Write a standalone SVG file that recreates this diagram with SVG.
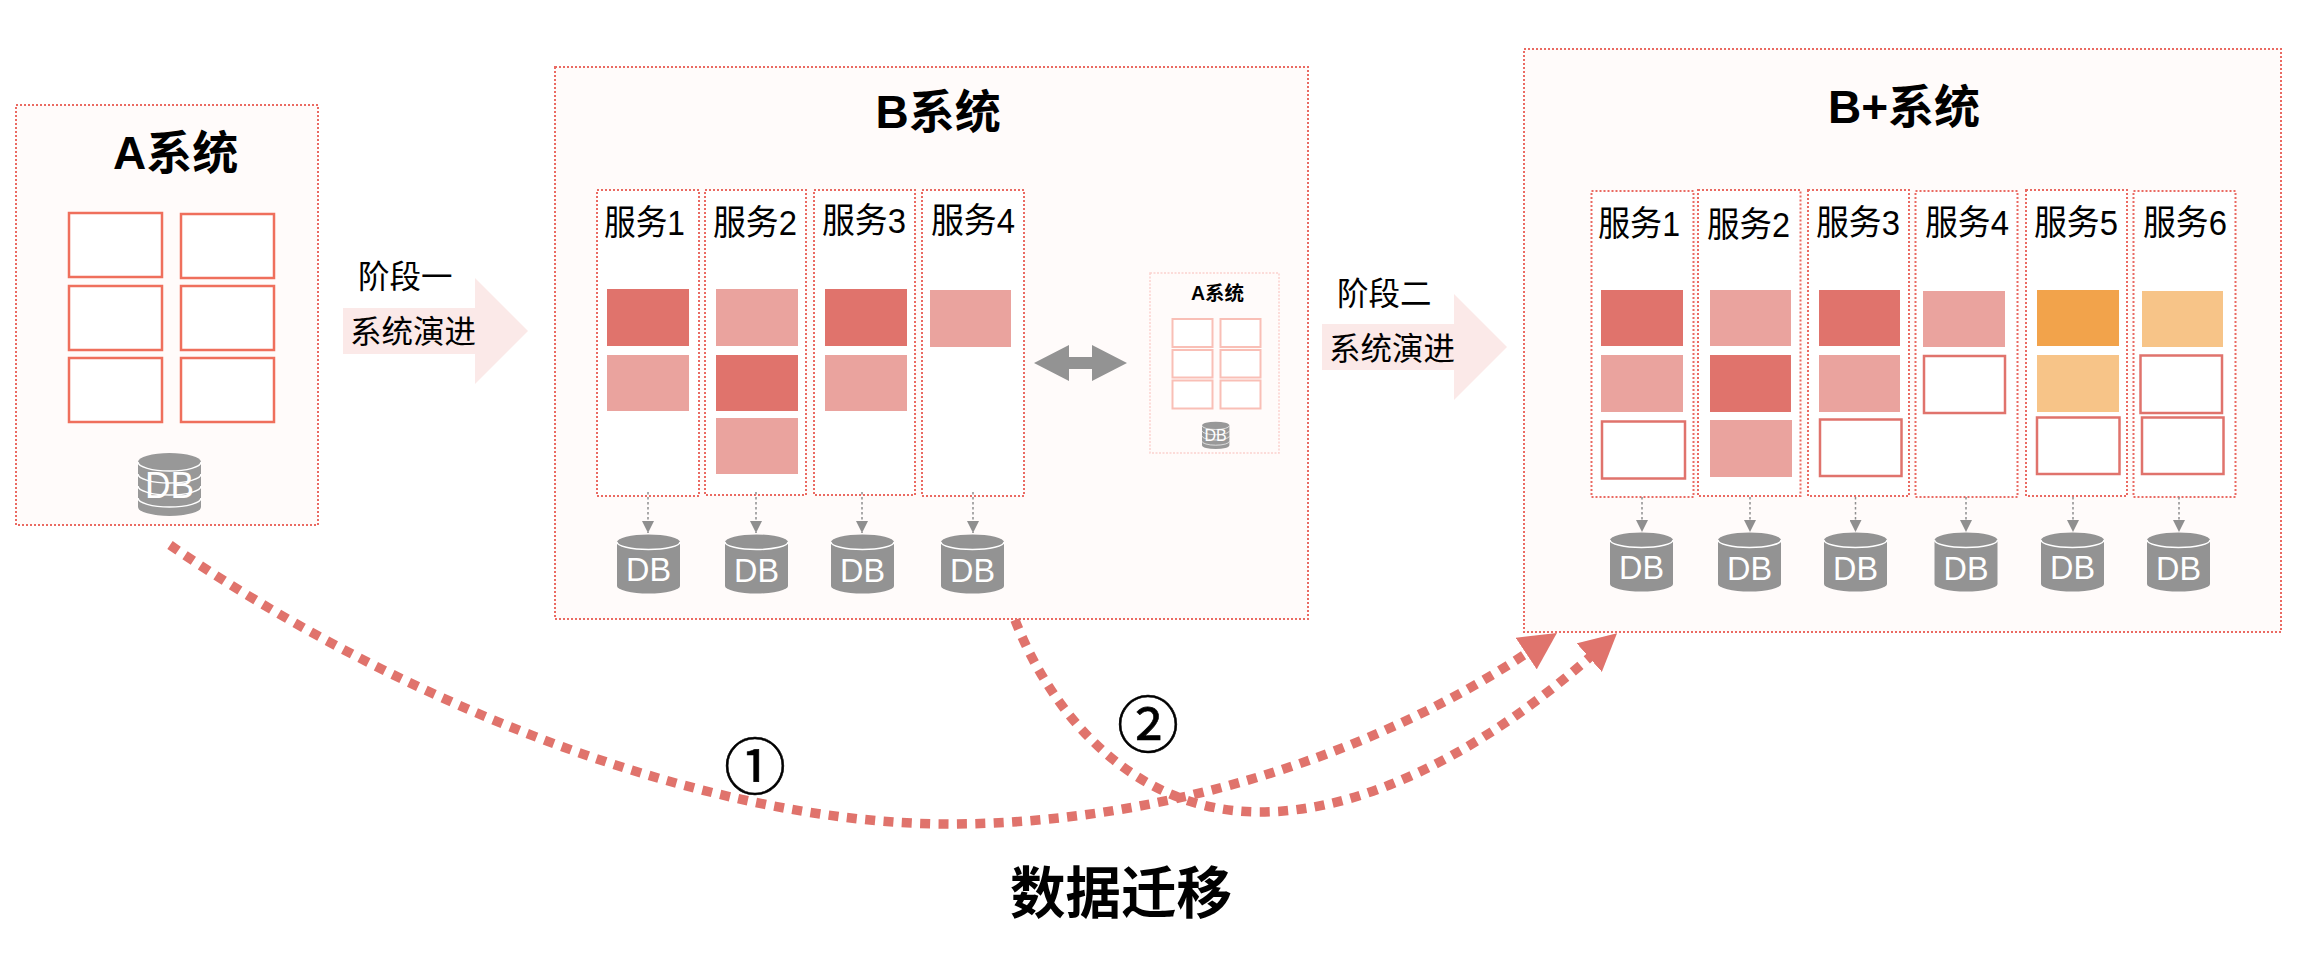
<svg xmlns="http://www.w3.org/2000/svg" width="2300" height="976" viewBox="0 0 2300 976">
<style>
text{font-family:"Liberation Sans","Noto Sans CJK SC",sans-serif;fill:#000}
.sys{fill:#fffbfa;stroke:#ea6a62;stroke-width:2;stroke-dasharray:2 2}
.col{fill:#fff;stroke:#ea6a62;stroke-width:2;stroke-dasharray:2 2}
.t1{font-size:46px;font-weight:700}
.t2{font-size:31.5px}
.t4{font-size:35px}
.t3{font-size:55.500px;font-weight:700}
.cn{font-size:62px;font-family:"Noto Sans CJK SC",sans-serif;stroke:#000;stroke-width:.6}
.db{font-size:33px;fill:#fff}
.d{fill:#e0736c}.l{fill:#eaa39e}.o{fill:#f2a34b}.p{fill:#f7c488}
.e{fill:#fff;stroke:#e0736c;stroke-width:2.5}
.a{fill:#fff;stroke:#ef6f5c;stroke-width:2.5}
.am{fill:#fff;stroke:#f9bfb6;stroke-width:2}
.stage{fill:#fbe9e8}
.link{fill:none;stroke:#8f8f8f;stroke-width:1.5;stroke-dasharray:2.5 2.5;marker-end:url(#mg)}
.mig{fill:none;stroke:#e0736c;stroke-width:9.500;stroke-dasharray:10 8.4}
</style>
<defs>
<marker id="mg" markerUnits="userSpaceOnUse" markerWidth="12" markerHeight="12" viewBox="0 0 12 12" refX="12" refY="6" orient="auto"><path d="M0 0L12 6L0 12Z" fill="#8f8f8f"/></marker>
<marker id="m1" markerUnits="userSpaceOnUse" markerWidth="37" markerHeight="38" viewBox="0 0 37 38" refX="1" refY="19" orient="auto"><path d="M0 0L37 19L0 38Z" fill="#e0736c"/></marker>
<g id="cyl"><path d="M0 7A31.5 7.5 0 0 1 63 7V51A31.5 7.5 0 0 1 0 51Z" fill="#939393"/><path d="M0 7A31.5 7.5 0 0 0 63 7" fill="none" stroke="#fff" stroke-width="1.5"/></g>
<g id="stack"><path d="M0 9A31.5 9 0 0 1 63 9V54A31.5 9 0 0 1 0 54Z" fill="#989898"/><path d="M0 9A31.5 9 0 0 0 63 9M0 21A31.5 9 0 0 0 63 21M0 33A31.5 9 0 0 0 63 33M0 45A31.5 9 0 0 0 63 45" fill="none" stroke="#fff" stroke-width="1.5"/></g>
</defs>

<g id="system-a">
<rect class="sys" x="16" y="105" width="302" height="420"/>
<text class="t1" x="113" y="169">A系统</text>
<rect class="a" x="69" y="213" width="93" height="64"/><rect class="a" x="181" y="214" width="93" height="64"/>
<rect class="a" x="69" y="286" width="93" height="64"/><rect class="a" x="181" y="286" width="93" height="64"/>
<rect class="a" x="69" y="358" width="93" height="64"/><rect class="a" x="181" y="358" width="93" height="64"/>
<use href="#stack" x="138" y="453"/>
<text x="145" y="498" font-size="36" style="fill:#fff" textLength="49" lengthAdjust="spacingAndGlyphs">DB</text>
</g>

<g id="stage-1">
<path class="stage" d="M343 308H475V278L528 331L475 384V354H343Z"/>
<text class="t2" x="358" y="288">阶段一</text>
<text class="t2" x="350" y="343">系统演进</text>
</g>

<g id="system-b">
<rect class="sys" x="555" y="67" width="753" height="552"/>
<text class="t1" x="875.500" y="128">B系统</text>
</g>
<g id="b-svc1"><rect class="col" x="597" y="190" width="102" height="306"/><text class="t4" x="604" y="235" textLength="81" lengthAdjust="spacingAndGlyphs">服务1</text><rect class="d" x="607" y="289" width="82" height="57"/><rect class="l" x="607" y="355" width="82" height="56"/></g>
<g id="b-svc2"><rect class="col" x="705" y="190" width="101" height="305"/><text class="t4" x="713" y="235" textLength="84" lengthAdjust="spacingAndGlyphs">服务2</text><rect class="l" x="716" y="289" width="82" height="57"/><rect class="d" x="716" y="355" width="82" height="56"/><rect class="l" x="716" y="418" width="82" height="56"/></g>
<g id="b-svc3"><rect class="col" x="814" y="190" width="101" height="305"/><text class="t4" x="822" y="233" textLength="84" lengthAdjust="spacingAndGlyphs">服务3</text><rect class="d" x="825" y="289" width="82" height="57"/><rect class="l" x="825" y="355" width="82" height="56"/></g>
<g id="b-svc4"><rect class="col" x="922" y="190" width="102" height="306"/><text class="t4" x="931" y="233" textLength="84" lengthAdjust="spacingAndGlyphs">服务4</text><rect class="l" x="930" y="290" width="81" height="57"/></g>
<g id="b-db1"><use href="#cyl" x="617" y="535"/><text class="db" x="626" y="581" textLength="45" lengthAdjust="spacingAndGlyphs">DB</text></g>
<g id="b-db2"><use href="#cyl" x="725" y="535"/><text class="db" x="734" y="582" textLength="45" lengthAdjust="spacingAndGlyphs">DB</text></g>
<g id="b-db3"><use href="#cyl" x="831" y="535"/><text class="db" x="840" y="582" textLength="45" lengthAdjust="spacingAndGlyphs">DB</text></g>
<g id="b-db4"><use href="#cyl" x="941" y="535"/><text class="db" x="950" y="582" textLength="45" lengthAdjust="spacingAndGlyphs">DB</text></g>

<g id="sync"><path d="M1034 363L1069 345V357H1092V345L1127 363L1092 381V369H1069V381Z" fill="#939393"/></g>

<g id="system-a-mini">
<rect x="1150" y="273" width="129" height="180" fill="#fffbfa" stroke="#fbd2ce" stroke-width="1.5" stroke-dasharray="2 1.5"/>
<text x="1191" y="300" font-size="19.500" font-weight="700">A系统</text>
<rect class="am" x="1172.500" y="319" width="40" height="28"/><rect class="am" x="1220.500" y="319" width="40" height="28"/>
<rect class="am" x="1172.500" y="350" width="40" height="27.500"/><rect class="am" x="1220.500" y="350" width="40" height="27.500"/>
<rect class="am" x="1172.500" y="380.500" width="40" height="28"/><rect class="am" x="1220.500" y="380.500" width="40" height="28"/>
<use href="#stack" transform="translate(1202 421.700) scale(.435 .435)"/>
<text x="1215.500" y="441" font-size="16" style="fill:#fff" text-anchor="middle">DB</text>
</g>

<g id="stage-2">
<path class="stage" d="M1322 324H1454V294L1507 347L1454 400V370H1322Z"/>
<text class="t2" x="1337" y="305">阶段二</text>
<text class="t2" x="1329" y="360">系统演进</text>
</g>

<g id="system-bplus">
<rect class="sys" x="1524" y="49" width="757" height="583"/>
<text class="t1" x="1828" y="123">B+系统</text>
</g>
<g id="p-svc1"><rect class="col" x="1591.500" y="191" width="102" height="306"/><text class="t4" x="1598" y="236" textLength="82" lengthAdjust="spacingAndGlyphs">服务1</text><rect class="d" x="1601" y="290" width="82" height="56"/><rect class="l" x="1601" y="355" width="82" height="57"/><rect class="e" x="1602" y="421.500" width="83" height="57"/></g>
<g id="p-svc2"><rect class="col" x="1698" y="190" width="102.500" height="306"/><text class="t4" x="1707" y="237" textLength="83" lengthAdjust="spacingAndGlyphs">服务2</text><rect class="l" x="1710" y="290" width="81" height="56"/><rect class="d" x="1710" y="355" width="81" height="57"/><rect class="l" x="1710" y="420" width="82" height="57"/></g>
<g id="p-svc3"><rect class="col" x="1808" y="190" width="101" height="306"/><text class="t4" x="1816" y="235" textLength="84" lengthAdjust="spacingAndGlyphs">服务3</text><rect class="d" x="1819" y="290" width="81" height="56"/><rect class="l" x="1819" y="355" width="81" height="57"/><rect class="e" x="1820" y="419.500" width="81.500" height="56.500"/></g>
<g id="p-svc4"><rect class="col" x="1915.500" y="191" width="102" height="306"/><text class="t4" x="1925" y="235" textLength="84" lengthAdjust="spacingAndGlyphs">服务4</text><rect class="l" x="1923" y="291" width="82" height="56"/><rect class="e" x="1924" y="356" width="81" height="57"/></g>
<g id="p-svc5"><rect class="col" x="2026" y="190" width="101" height="306"/><text class="t4" x="2034" y="235" textLength="84" lengthAdjust="spacingAndGlyphs">服务5</text><rect class="o" x="2037" y="290" width="82" height="56"/><rect class="p" x="2037" y="355" width="82" height="57"/><rect class="e" x="2037" y="417.500" width="82.500" height="56.500"/></g>
<g id="p-svc6"><rect class="col" x="2133.500" y="191" width="102" height="306"/><text class="t4" x="2143" y="235" textLength="84" lengthAdjust="spacingAndGlyphs">服务6</text><rect class="p" x="2142" y="291" width="81" height="56"/><rect class="e" x="2140.500" y="355.500" width="81.500" height="57.500"/><rect class="e" x="2142" y="417.500" width="81.500" height="56.500"/></g>
<g id="p-db1"><use href="#cyl" x="1610" y="533"/><text class="db" x="1619" y="579" textLength="45" lengthAdjust="spacingAndGlyphs">DB</text></g>
<g id="p-db2"><use href="#cyl" x="1718" y="533"/><text class="db" x="1727" y="580" textLength="45" lengthAdjust="spacingAndGlyphs">DB</text></g>
<g id="p-db3"><use href="#cyl" x="1824" y="533"/><text class="db" x="1833" y="580" textLength="45" lengthAdjust="spacingAndGlyphs">DB</text></g>
<g id="p-db4"><use href="#cyl" x="1934.500" y="533"/><text class="db" x="1943.500" y="580" textLength="45" lengthAdjust="spacingAndGlyphs">DB</text></g>
<g id="p-db5"><use href="#cyl" x="2041" y="533"/><text class="db" x="2050" y="579" textLength="45" lengthAdjust="spacingAndGlyphs">DB</text></g>
<g id="p-db6"><use href="#cyl" x="2147" y="533"/><text class="db" x="2156" y="580" textLength="45" lengthAdjust="spacingAndGlyphs">DB</text></g>

<g id="connectors">
<path class="link" d="M648 492V533"/><path class="link" d="M756 492V533"/><path class="link" d="M862 492V533"/><path class="link" d="M973 492V533"/>
<path class="link" d="M1642 497V532"/><path class="link" d="M1750 497V532"/><path class="link" d="M1855.500 497V532"/><path class="link" d="M1966 497V532"/><path class="link" d="M2073 497V532"/><path class="link" d="M2179 497V532"/>
<path class="mig" marker-end="url(#m1)" d="M170 545C380 690 690 824 950 824C1170 824 1385 748 1527 653"/>
<path class="mig" marker-end="url(#m1)" d="M1015 620C1050 710 1130 812 1260 812C1370 812 1490 745 1590 657"/>
</g>

<g id="labels">
<text class="cn" x="724" y="790">①</text>
<text class="cn" x="1117" y="748">②</text>
<text class="t3" x="1010" y="913">数据迁移</text>
</g>
</svg>
